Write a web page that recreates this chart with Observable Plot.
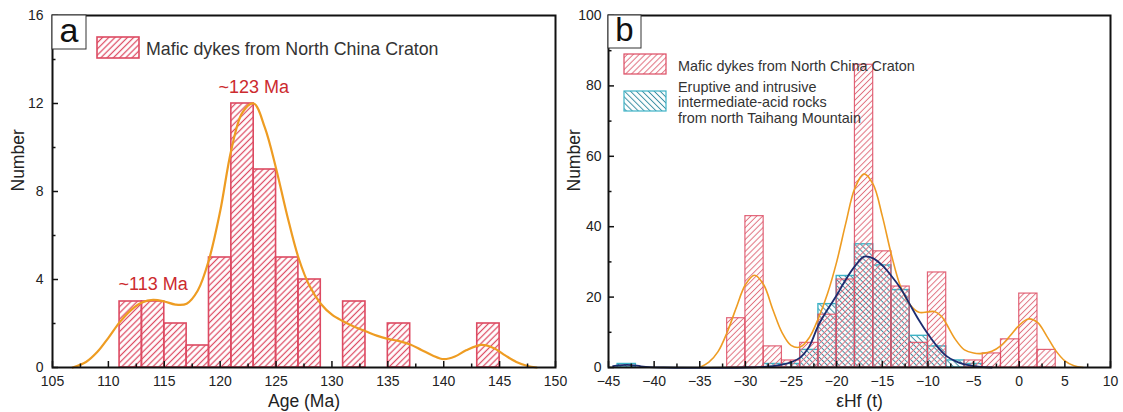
<!DOCTYPE html>
<html>
<head>
<meta charset="utf-8">
<script src="https://cdn.jsdelivr.net/npm/d3@7"></script>
<script src="https://cdn.jsdelivr.net/npm/@observablehq/plot@0.6"></script>
<style>
  body { margin: 0; background: #fff; }
  #wrap { display: flex; width: 1123px; height: 412px; overflow: hidden; background: #fff; }
  #wrap svg { overflow: visible; flex: none; }
</style>
</head>
<body>
<div id="wrap"></div>
<script>
// ---- Panel a: zircon U–Pb ages of mafic dykes ----
const ageBinStart = [111, 113, 115, 117, 119, 121, 123, 125, 127, 131, 135, 143];
const ageCounts   = [3, 3, 2, 1, 5, 12, 9, 5, 4, 3, 2, 2];
const ageBinWidth = 2;
const ageCurveX = [106.8, 108, 109, 110, 111, 112, 113, 114, 115, 116, 117, 118, 119, 120, 121, 122, 123, 124, 125, 126, 127, 128, 129, 130, 131, 132, 133, 134, 135, 136, 137, 138, 139, 140, 141, 142, 143.4, 144.5, 145.5, 146.5, 147.5, 148.3];
const ageCurveY = [0, 0.25, 0.7, 1.35, 2.05, 2.6, 2.95, 3.07, 3.0, 2.86, 2.9, 3.5, 4.9, 7.1, 9.9, 11.6, 12.0, 10.9, 9.05, 6.9, 5.0, 3.7, 2.9, 2.4, 2.1, 1.85, 1.65, 1.45, 1.3, 1.2, 1.05, 0.8, 0.55, 0.38, 0.5, 0.78, 1.03, 0.88, 0.55, 0.25, 0.07, 0];
const ageTicks = [105, 110, 115, 120, 125, 130, 135, 140, 145, 150];
const ageMinorTicks = [107.5, 112.5, 117.5, 122.5, 127.5, 132.5, 137.5, 142.5, 147.5];
const countTicksA = [0, 4, 8, 12, 16];
const countMinorTicksA = [2, 6, 10, 14];
const peakLabels = ["~113 Ma", "~123 Ma"];
const peakAge = [114, 123];
const peakCount = [3.07, 12];

// ---- Panel b: zircon εHf(t) ----
const hfBinWidth = 2;
const dykeHfStart  = [-32, -30, -28, -26, -24, -22, -20, -18, -16, -14, -12, -10, -6, -4, -2, 0, 2];
const dykeHfCounts = [14, 43, 6, 2, 7, 15, 25, 86, 33, 23, 7, 27, 2, 4, 8, 21, 5];
const taihangHfStart  = [-44, -28, -26, -24, -22, -20, -18, -16, -14, -12, -10, -8, -6];
const taihangHfCounts = [1, 1, 1, 5, 18, 26, 35, 29, 22, 9, 6, 2, 1];
const dykeCurveX = [-35, -34, -33, -32, -31, -30, -29, -28, -27, -26, -25, -24, -23, -22, -21, -20, -19, -18, -17, -16, -15, -14, -13, -12, -11, -10, -9.3, -8.5, -8, -7, -6, -5, -4, -3, -2, -1, 0, 1, 2, 3, 4, 5, 6, 7];
const dykeCurveY = [0, 1.5, 4.5, 10, 17, 23.5, 26.2, 23.5, 16.5, 10, 6.3, 5.8, 8.5, 14, 21, 30, 41, 51, 55, 52, 43, 32, 23, 18, 15.7, 15.8, 15.9, 14.5, 12.5, 8, 5, 4.1, 4, 4.6, 6.2, 9, 12, 13.8, 12.8, 9, 4.8, 1.9, 0.5, 0];
const taihangCurveX = [-44.5, -43.5, -42.5, -41.5, -40.5, -39, -30, -28, -27, -26, -25, -24, -23, -22, -21, -20, -19, -18, -17, -16, -15, -14, -13, -12, -11, -10, -9, -8, -7, -6, -5, -4, -3];
const taihangCurveY = [0.4, 0.7, 0.7, 0.35, 0.1, 0, 0, 0.2, 0.4, 0.8, 1.5, 2.8, 6, 12, 16.5, 20.5, 25, 28.8, 31.5, 31, 29, 26, 22.5, 18, 13.5, 9.5, 6, 3.3, 1.8, 0.9, 0.4, 0.1, 0];
const hfTicks = [-45, -40, -35, -30, -25, -20, -15, -10, -5, 0, 5, 10];
const hfMinorTicks = [-42.5, -37.5, -32.5, -27.5, -22.5, -17.5, -12.5, -7.5, -2.5, 2.5, 7.5];
const countTicksB = [0, 20, 40, 60, 80, 100];
const countMinorTicksB = [10, 30, 50, 70, 90];

const dykeName = "Mafic dykes from North China Craton";
const taihangName = ["Eruptive and intrusive", "intermediate-acid rocks", "from north Taihang Mountain"];

const FONT = "'Liberation Sans', Arial, Helvetica, sans-serif";
const RED = "#dd4a62";
const TEAL = "#3db3c6";
const ORANGE = "#ee9c22";
const NAVY = "#1c2c70";

const toBins = (starts, counts, w) => starts.map((s, i) => ({x1: s, x2: s + w, n: counts[i]}));
const toLine = (xs, ys) => xs.map((x, i) => ({x, y: ys[i]}));

function addHatch(svg, id, color, angle, spacing, width) {
  let defs = svg.select("defs");
  if (defs.empty()) defs = svg.insert("defs", ":first-child");
  const p = defs.append("pattern")
    .attr("id", id)
    .attr("patternUnits", "userSpaceOnUse")
    .attr("width", spacing).attr("height", spacing)
    .attr("patternTransform", `rotate(${angle})`);
  p.append("line")
    .attr("x1", spacing / 2).attr("y1", 0)
    .attr("x2", spacing / 2).attr("y2", spacing)
    .attr("stroke", color).attr("stroke-width", width);
}

function axes(xTicks, xMinor, yTicks, yMinor, fontSize, xPad, yPad) {
  return [
    Plot.axisX({ticks: xTicks, tickSize: -6, tickPadding: xPad, fontSize, label: null, stroke: "#111", strokeWidth: 1.5, fill: "#222"}),
    Plot.axisX({ticks: xMinor, tickSize: -3.5, tickFormat: () => "", label: null, stroke: "#111", strokeWidth: 1.5}),
    Plot.axisY({ticks: yTicks, tickSize: -6, tickPadding: yPad, fontSize, label: null, stroke: "#111", strokeWidth: 1.5, fill: "#222"}),
    Plot.axisY({ticks: yMinor, tickSize: -3.5, tickFormat: () => "", label: null, stroke: "#111", strokeWidth: 1.5})
  ];
}

function axisTitles(xTitle, xDy) {
  return [
    Plot.text([xTitle], {frameAnchor: "bottom", dy: xDy, fontSize: 17.5, fill: "#222", lineAnchor: "middle"}),
    Plot.text(["Number"], {frameAnchor: "left", dx: -34, rotate: -90, fontSize: 17.5, fill: "#222"})
  ];
}

function panelBadge(svg, letter, left, top, size, fontSize) {
  svg.append("rect")
    .attr("x", left).attr("y", top).attr("width", size).attr("height", size)
    .attr("fill", "#fff").attr("stroke", "#333").attr("stroke-width", 1);
  svg.append("text")
    .attr("x", left + size / 2).attr("y", top + size - 7)
    .attr("text-anchor", "middle").attr("font-size", fontSize).attr("fill", "#111")
    .text(letter);
}

// ---------------- Panel a ----------------
const plotA = Plot.plot({
  width: 560, height: 412,
  marginLeft: 52, marginRight: 5, marginTop: 15, marginBottom: 45,
  style: {background: "transparent", fontFamily: FONT, overflow: "visible"},
  x: {domain: [105, 150]},
  y: {domain: [0, 16]},
  marks: [
    Plot.rect(toBins(ageBinStart, ageCounts, ageBinWidth), {x1: "x1", x2: "x2", y1: 0, y2: "n", fill: "url(#hatchA)", stroke: RED, strokeWidth: 1.6}),
    Plot.line(toLine(ageCurveX, ageCurveY), {x: "x", y: "y", stroke: ORANGE, strokeWidth: 2.2, curve: "catmull-rom"}),
    Plot.text(peakLabels.map((t, i) => ({t, x: peakAge[i], y: peakCount[i]})), {x: "x", y: "y", text: "t", dy: -16, fontSize: 18, fill: "#cc2a2e"}),
    ...axes(ageTicks, ageMinorTicks, countTicksA, countMinorTicksA, 14, 15, 15),
    ...axisTitles("Age (Ma)", 34),
    Plot.frame({stroke: "#111", strokeWidth: 2})
  ]
});
{
  const svg = d3.select(plotA);
  addHatch(svg, "hatchA", RED, 45, 4.4, 1.25);
  panelBadge(svg, "a", 52, 15, 34, 34);
  svg.append("rect").attr("x", 97).attr("y", 37).attr("width", 42).attr("height", 21)
    .attr("fill", "url(#hatchA)").attr("stroke", RED).attr("stroke-width", 1.6);
  svg.append("text").attr("x", 146).attr("y", 49).attr("dy", "0.35em")
    .attr("text-anchor", "start")
    .attr("font-size", 17.8).attr("fill", "#333").text(dykeName);
}

// ---------------- Panel b ----------------
const plotB = Plot.plot({
  width: 563, height: 412,
  marginLeft: 48, marginRight: 13, marginTop: 15, marginBottom: 45,
  style: {background: "transparent", fontFamily: FONT, overflow: "visible"},
  x: {domain: [-45, 10]},
  y: {domain: [0, 100]},
  marks: [
    Plot.rect(toBins(taihangHfStart, taihangHfCounts, hfBinWidth), {x1: "x1", x2: "x2", y1: 0, y2: "n", fill: "url(#hatchTeal)", stroke: TEAL, strokeWidth: 1.4}),
    Plot.rect(toBins(dykeHfStart, dykeHfCounts, hfBinWidth), {x1: "x1", x2: "x2", y1: 0, y2: "n", fill: "url(#hatchRedB)", stroke: RED, strokeWidth: 1.2, strokeOpacity: 0.85}),
    Plot.line(toLine(dykeCurveX, dykeCurveY), {x: "x", y: "y", stroke: ORANGE, strokeWidth: 1.6, curve: "catmull-rom"}),
    Plot.line(toLine(taihangCurveX, taihangCurveY), {x: "x", y: "y", stroke: NAVY, strokeWidth: 1.8, curve: "catmull-rom"}),
    ...axes(hfTicks, hfMinorTicks, countTicksB, countMinorTicksB, 14, 15, 13),
    ...axisTitles("εHf (t)", 34),
    Plot.frame({stroke: "#111", strokeWidth: 2})
  ]
});
{
  const svg = d3.select(plotB);
  addHatch(svg, "hatchRedB", "#e0707f", 45, 4.2, 1);
  addHatch(svg, "hatchTeal", "#3a8fa3", -45, 4.2, 1);
  panelBadge(svg, "b", 48, 15, 33, 33);
  svg.append("rect").attr("x", 64).attr("y", 54).attr("width", 42).attr("height", 20)
    .attr("fill", "url(#hatchRedB)").attr("stroke", RED).attr("stroke-width", 1.2);
  svg.append("rect").attr("x", 64).attr("y", 91).attr("width", 42).attr("height", 20)
    .attr("fill", "url(#hatchTeal)").attr("stroke", TEAL).attr("stroke-width", 1.2);
  svg.append("text").attr("x", 118).attr("y", 66).attr("dy", "0.35em")
    .attr("text-anchor", "start")
    .attr("font-size", 14.4).attr("fill", "#333").text(dykeName);
  const t = svg.append("text").attr("font-size", 14.4).attr("fill", "#333").attr("text-anchor", "start");
  taihangName.forEach((line, i) => {
    t.append("tspan").attr("x", 118).attr("y", 87 + i * 15.3).attr("dy", "0.35em").text(line);
  });
}

document.getElementById("wrap").append(plotA, plotB);
</script>
</body>
</html>
